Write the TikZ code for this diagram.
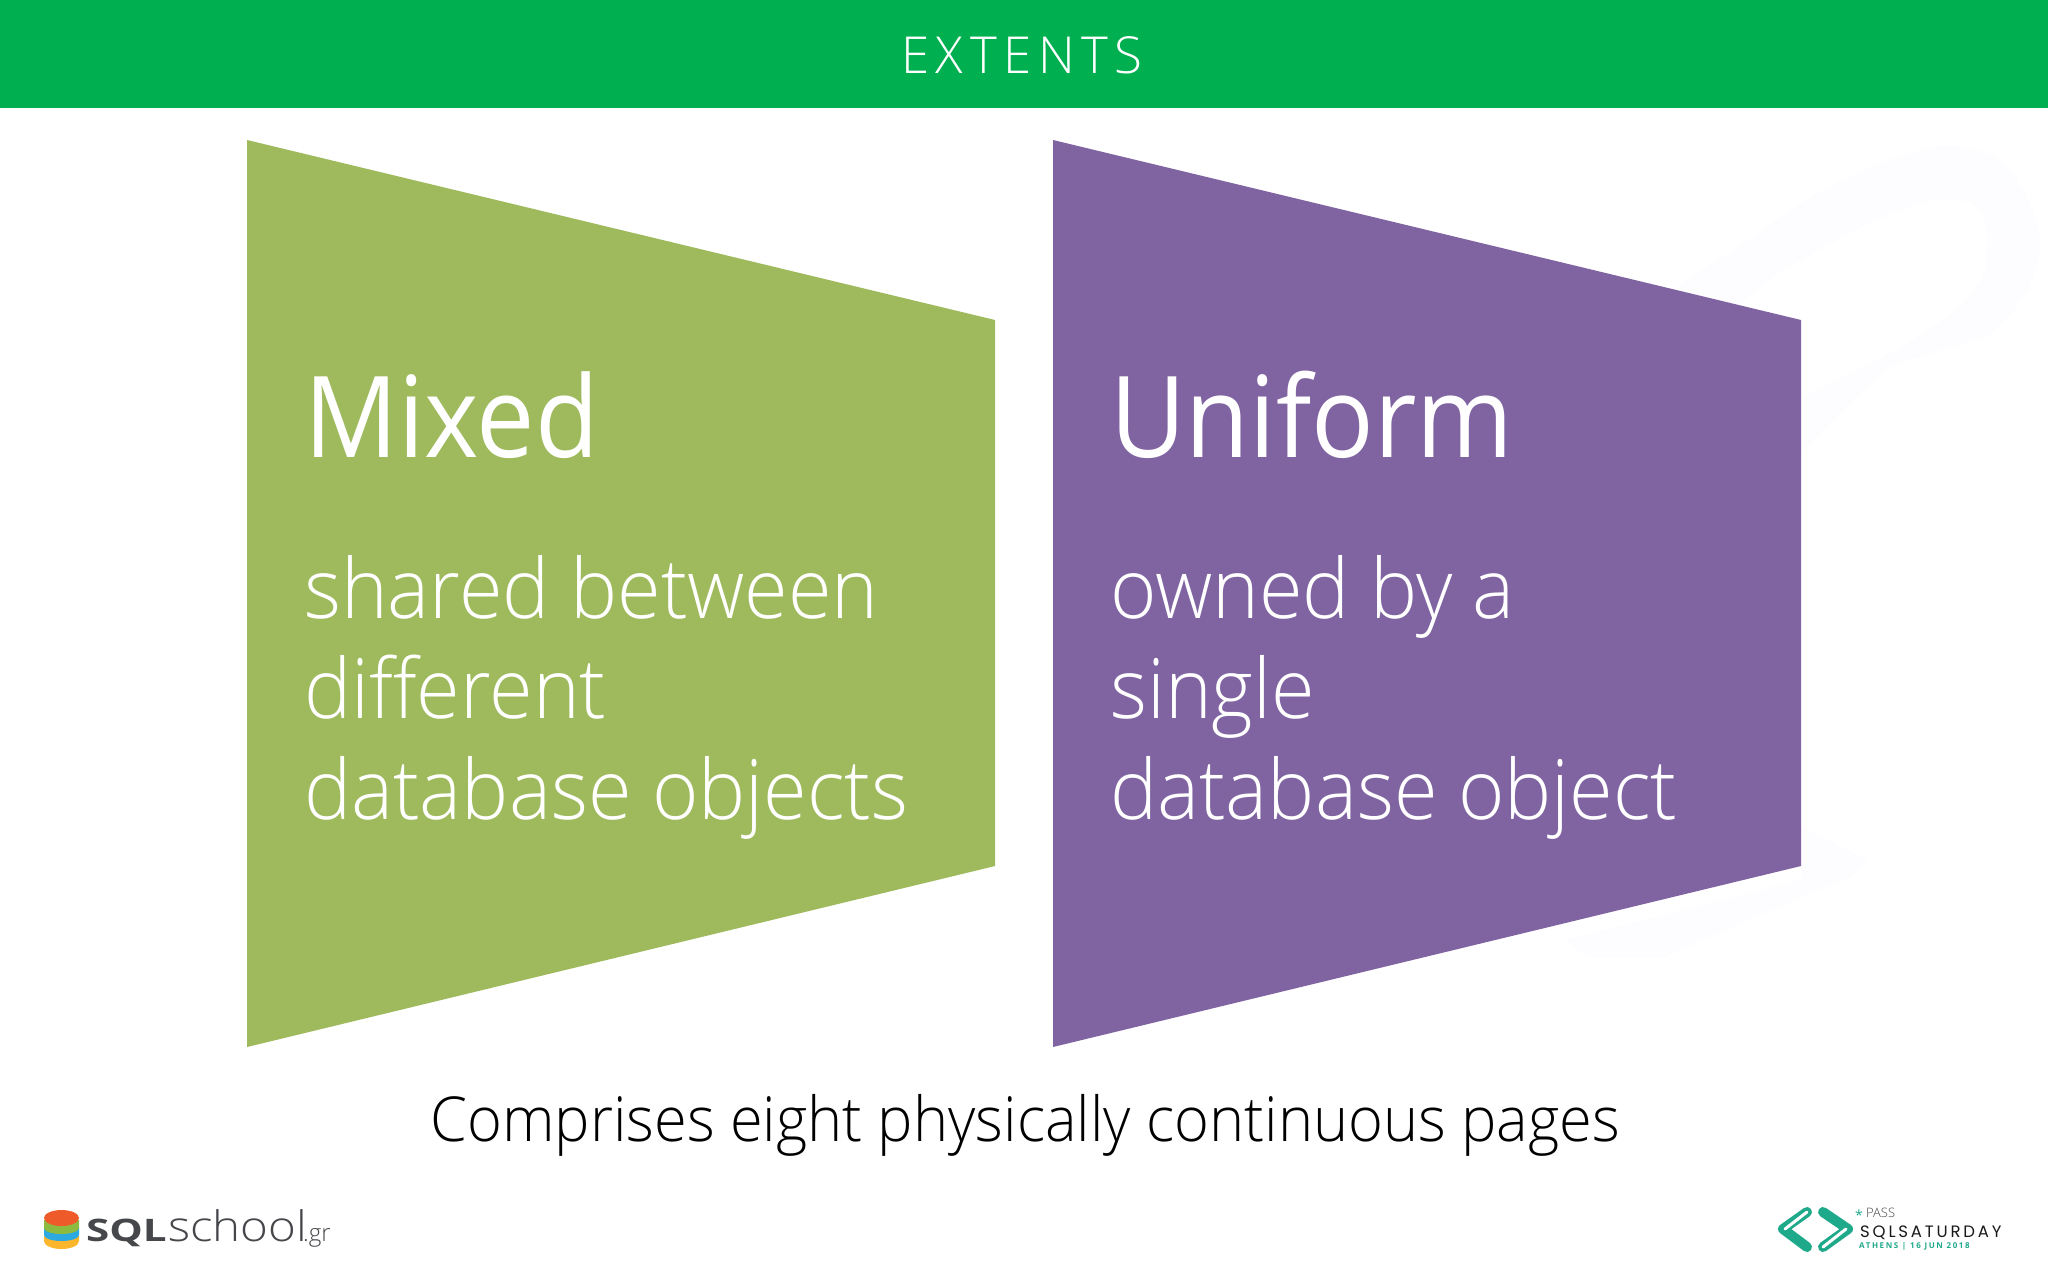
\documentclass[tikz,border=0pt]{standalone}
\usepackage{fontspec}
\setmainfont{Open Sans Light}
\newfontfamily\regfont{Open Sans}
\newfontfamily\headfont{Open Sans}[FakeStretch=0.92]
\newfontfamily\bodyfont{Open Sans Light}[FakeStretch=0.955]
\newfontfamily\footfont{Open Sans Light}[FakeStretch=0.96]
\newfontfamily\sqlfont{Open Sans}[FakeStretch=1.36]
\newfontfamily\schoolfont{Open Sans Light}[FakeStretch=1.13]
\newfontfamily\satfont{Poppins}
\definecolor{bannergreen}{HTML}{00B050}
\definecolor{leafgreen}{HTML}{9EBA5C}
\definecolor{plum}{HTML}{8064A2}
\definecolor{ghost}{HTML}{FDFCFE}
\definecolor{teal}{HTML}{1FA98B}
\definecolor{slate}{HTML}{46474B}
\definecolor{logored}{HTML}{EF5A2B}
\definecolor{logogreen}{HTML}{8CBB3F}
\definecolor{logoblue}{HTML}{2BA9E0}
\definecolor{logoyellow}{HTML}{FBB62B}
\newcommand{\fsz}[1]{\fontsize{#1}{#1}\selectfont}
\tikzset{
  txt/.style={inner sep=0pt,anchor=base west},
  head/.style={txt,text=white,font=\headfont\fsz{113}},
  body/.style={txt,text=white,font=\bodyfont\fsz{83}},
}
\begin{document}
\begin{tikzpicture}[x=1pt,y=-1pt]
\useasboundingbox (0,0) rectangle (2048,1280);
\fill[white] (0,0) rectangle (2048,1280);
% faint watermark
\fill[ghost] (1680,285) -- (1762,231) .. controls (1800,200) and (1860,165) .. (1937,146) .. controls (1980,145) and (2010,160) .. (2017,180) .. controls (2035,210) and (2045,240) .. (2038,260) .. controls (2030,300) and (2000,325) .. (1990,334) .. controls (1950,350) and (1900,360) .. (1885,369) -- (1804,449) -- (1804,397) .. controls (1860,370) and (1920,340) .. (1955,311) .. controls (1975,295) and (1990,270) .. (1986,254) .. controls (1990,230) and (1985,210) .. (1972,203) .. controls (1950,195) and (1925,200) .. (1902,209) .. controls (1860,225) and (1820,250) .. (1780,271) -- (1720,320) -- (1680,320) -- cycle;
\fill[ghost] (1801,826) -- (1867,860) -- (1850,877) -- (1780,906) -- (1664,957) -- (1587,957) -- (1566,940) -- (1801,880) -- cycle;
% banner
\fill[bannergreen] (0,0) rectangle (2048,108);
\node[txt,anchor=base,text=white,font=\fsz{51}] (title) at (1022,73) {\addfontfeature{LetterSpace=13}EXTENTS};
% trapezoids
\fill[leafgreen] (247,140) -- (995,320) -- (995,866) -- (247,1047) -- cycle;
\fill[plum] (1053,140) -- (1801,320) -- (1801,866) -- (1053,1047) -- cycle;
% texts
\node[head] (mixed) at (304,457) {Mixed};
\node[body] (m1) at (304,618) {shared between};
\node[body] (m2) at (304,718) {different};
\node[body] (m3) at (304,819) {database objects};
\node[head] (uniform) at (1110,457) {Uniform};
\node[body] (u1) at (1110,618) {owned by a};
\node[body] (u2) at (1110,718) {single};
\node[body] (u3) at (1110,819) {database object};
\node[txt,text=black,font=\footfont\fsz{62}] (foot) at (430,1141) {Comprises eight physically continuous pages};
% left logo
\fill[logoyellow] (44,1236) -- (79,1236) -- (79,1241) arc[start angle=0,end angle=180,x radius=17.5,y radius=8] -- cycle;
\fill[logoblue] (44,1228) -- (79,1228) -- (79,1235) arc[start angle=0,end angle=180,x radius=17.5,y radius=6] -- cycle;
\fill[logogreen] (44,1220) -- (79,1220) -- (79,1228) arc[start angle=0,end angle=180,x radius=17.5,y radius=6] -- cycle;
\fill[logored] (61.5,1218) ellipse[x radius=17.5,y radius=8];
\node[txt,text=slate,font=\sqlfont\bfseries\fsz{31}] (sql) at (86,1241) {SQL};
\node[txt,text=slate,font=\schoolfont\fsz{42}] (school) at (168,1241) {school};
\node[txt,text=slate,font=\fsz{24}] (gr) at (303,1241) {.gr};
% right logo
\draw[teal,line width=10pt,line cap=round,line join=round] (1807,1212) -- (1783,1229) -- (1807,1247);
\draw[teal,line width=10pt,line cap=round,line join=round] (1823,1212) -- (1848,1229) -- (1823,1247);
\draw[white,line width=3pt,line cap=round,line join=round] (1807,1212) -- (1785,1229);
\draw[white,line width=3pt,line cap=round,line join=round] (1823,1247) -- (1846,1229);
\node[txt,text=slate,font=\fsz{13}] (pass) at (1866,1217) {PASS};
\node[txt,text=teal,font=\regfont\fsz{14}] (star) at (1855,1220) {*};
\node[txt,text=black!90,font=\satfont\fsz{16.5}] (sat) at (1860,1237) {\addfontfeature{LetterSpace=17}SQLSATURDAY};
\node[txt,text=teal,font=\regfont\bfseries\fsz{8}] (ath) at (1859,1248) {\addfontfeature{LetterSpace=20}ATHENS | 16 JUN 2018};
\end{tikzpicture}
\end{document}
